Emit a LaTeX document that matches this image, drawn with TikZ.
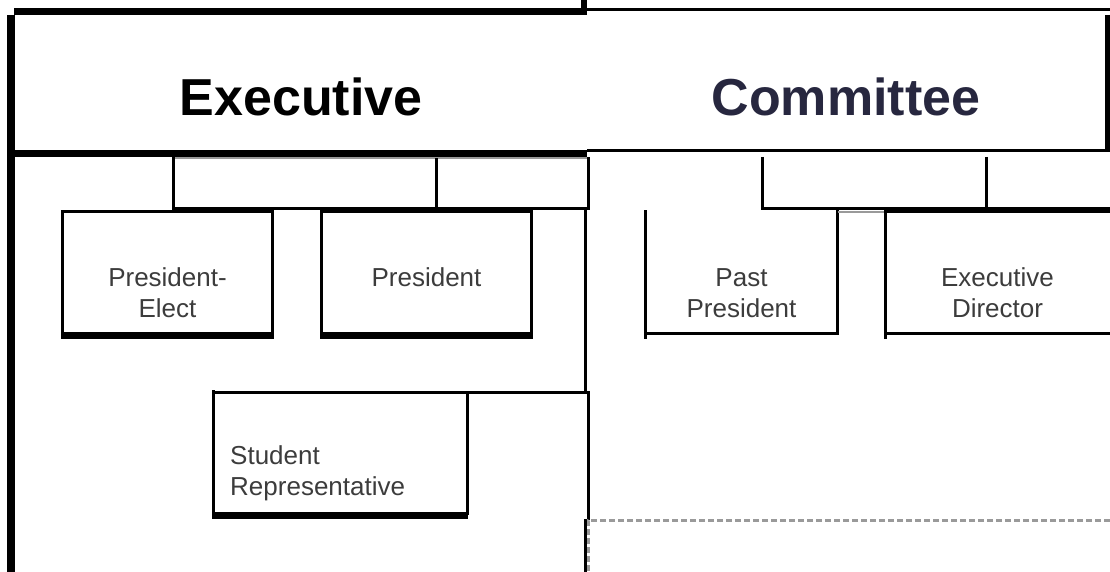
\documentclass[tikz,border=0pt]{standalone}
\usepackage{fontspec}
\setmainfont{Liberation Sans}
\usepackage{tikz}
\usetikzlibrary{calc}

\definecolor{committeenavy}{HTML}{27273F}
\definecolor{roletext}{HTML}{3C3C3C}
\definecolor{rulegray}{HTML}{9A9A9A}

\tikzset{
	thinrule/.style={line width=3pt},
	thickrule/.style={line width=7pt},
	grayrule/.style={line width=2pt,draw=rulegray},
	dashrule/.style={line width=3pt,draw=rulegray,dash pattern=on 6pt off 3pt},
	titletext/.style={font=\bfseries\fontsize{52}{60}\selectfont,anchor=base,inner sep=0pt},
	roletext/.style={font=\fontsize{26}{30.5}\selectfont,text=roletext,align=center,anchor=base,inner sep=0pt}
}

\begin{document}
\begin{tikzpicture}[x=1pt,y=-1pt]
	\useasboundingbox (0,0) rectangle (1110,572);
	%%%%%%%%%%%%%%%
	% header, left half
	\coordinate (hl-nw) at (14,11.5);
	\coordinate (hl-sw) at (14,153.5);
	\draw[thickrule] (hl-nw) -- (587,11.5);
	\draw[line width=6pt] (584,0) -- (584,15);
	\draw[line width=8pt] (11,15) -- (11,572);
	\draw[thickrule] (hl-sw) -- (587,153.5);
	\node[titletext] (exec) at (301,116) {Executive};
	%%%%%%%%%%%%%%%
	% header, right half
	\draw[thinrule] (587,9.5) -- (1110,9.5);
	\draw[line width=5pt] (1107,15) -- (1107,152);
	\draw[thinrule] (587,150.5) -- (1109.5,150.5);
	\node[titletext,text=committeenavy] (comm) at (846,116) {Committee};
	%%%%%%%%%%%%%%%
	% tabs under the header
	\draw[grayrule] (173,158) -- (587,158);
	\draw[thinrule] (173,157) -- (173,208.5) -- (588.5,208.5) -- (588.5,157);
	\draw[thinrule] (436,158) -- (436,208.5);
	\draw[thinrule] (762,157) -- (762,208) -- (1110,208);
	\draw[thinrule] (986.5,157) -- (986.5,208);
	%%%%%%%%%%%%%%%
	% boxes of the first row
	\draw[thinrule] (62.5,211.5) rectangle (272.5,335.5);
	\draw[thickrule] (61,335.5) -- (274,335.5);
	\node[roletext] (pe) at (167.5,317) {President-\\Elect};
	\draw[thinrule] (321.5,211.5) rectangle (531.5,335.5);
	\draw[thickrule] (320,335.5) -- (533,335.5);
	\node[roletext] (pres) at (426.5,286) {President};
	\draw[thinrule] (645.5,210) -- (645.5,339);
	\draw[thinrule] (645.5,333.5) -- (837.5,333.5) -- (837.5,210);
	\node[roletext] (pp) at (741.5,317) {Past\\President};
	\draw[grayrule] (837.5,211.5) -- (885.5,211.5);
	\draw[thinrule] (885.5,339) -- (885.5,209.5);
	\draw[line width=4pt] (885.5,211) -- (1110,211);
	\draw[thinrule] (885.5,333.5) -- (1110,333.5);
	\node[roletext] (ed) at (997.5,317) {Executive\\Director};
	%%%%%%%%%%%%%%%
	% lower column
	\draw[thinrule] (585.5,208) -- (585.5,392);
	\draw[thinrule] (213.5,390) -- (213.5,517);
	\draw[thinrule] (213.5,392) -- (588.5,392) -- (588.5,520);
	\draw[thinrule] (467,392) -- (467,515);
	\draw[thickrule] (212,515) -- (468,515);
	\node[roletext,align=left,anchor=base west] (stud) at (230,495) {Student\\Representative};
	\draw[thinrule] (585.5,519) -- (585.5,572);
	\draw[dashrule] (1110,520) -- (588,520) -- (588,572);
\end{tikzpicture}
\end{document}
